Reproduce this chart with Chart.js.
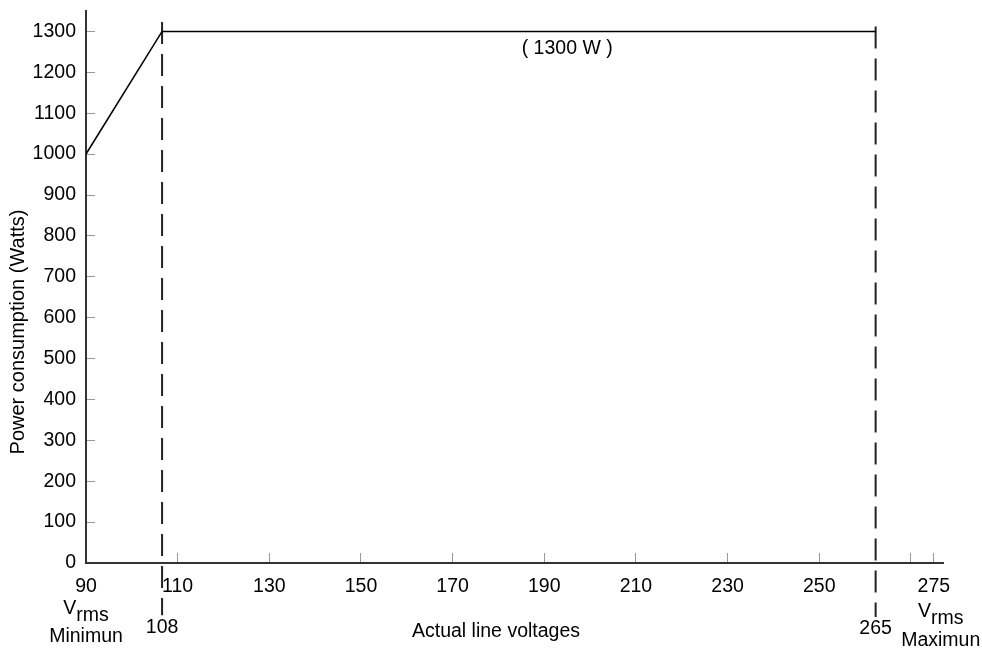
<!DOCTYPE html>
<html>
<head>
<meta charset="utf-8">
<script src="https://cdn.jsdelivr.net/npm/chart.js@4/dist/chart.umd.min.js"></script>
<style>
  html, body { margin: 0; padding: 0; background: #fff; }
  canvas { display: block; }
</style>
</head>
<body>
<canvas id="myChart" width="982" height="649"></canvas>
<script>
// values
const voltage = [90, 106.6, 262.3];
const power = [1000, 1300, 1300];

// the two dashed limit lines (drawn a bit lower than their printed value)
const limitVolts = [106.6, 262.3];
const limitLabels = ['108', '265'];
const limitTop = [1323, 1312];
const limitBottom = [-128, -132];

const xTickValues = [90, 110, 130, 150, 170, 190, 210, 230, 250, 270, 275];
const xTickLabels = ['90', '110', '130', '150', '170', '190', '210', '230', '250', '', '275'];
const yTickValues = [0, 100, 200, 300, 400, 500, 600, 700, 800, 900, 1000, 1100, 1200, 1300];

const ctx = document.getElementById('myChart');
const FONT = "'Liberation Sans', Arial, sans-serif";
const FS = 19.5;
Chart.defaults.font.family = FONT;
Chart.defaults.color = '#000';

const textPlugin = {
  id: 'texts',
  afterDraw(chart) {
    const c = chart.ctx;
    const x = chart.scales.x;
    const y = chart.scales.y;
    c.save();
    c.fillStyle = '#000';
    c.font = FS + 'px ' + FONT;
    c.textAlign = 'center';
    c.textBaseline = 'alphabetic';

    // ( 1300 W )
    c.fillText('( 1300 W )', x.getPixelForValue(195), y.getPixelForValue(1300) + 23);

    // labels under the limit lines
    limitVolts.forEach((v, i) => {
      c.fillText(limitLabels[i], x.getPixelForValue(v), 633 + i);
    });

    c.fillText('Actual line voltages', 496, 637);

    // V rms captions
    function vrms(cx, base, word, wordBase) {
      c.textAlign = 'left';
      const wV = c.measureText('V').width;
      const wR = c.measureText('rms').width;
      const sx = cx - (wV + wR) / 2;
      c.fillText('V', sx, base);
      c.fillText('rms', sx + wV, base + 7);
      c.textAlign = 'center';
      c.fillText(word, cx, wordBase);
    }
    vrms(x.getPixelForValue(90), 614, 'Minimun', 642);
    vrms(x.getPixelForValue(276.5), 617, 'Maximun', 646);

    // y axis title
    c.translate(18, 332);
    c.rotate(-Math.PI / 2);
    c.font = '20px ' + FONT;
    c.textBaseline = 'middle';
    c.fillText('Power consumption (Watts)', 0, 0);
    c.restore();
  }
};

const datasets = [{
  label: 'Power',
  data: voltage.map((v, i) => ({ x: v, y: power[i] })),
  borderColor: '#000',
  borderWidth: 1.6,
  pointRadius: 0,
  tension: 0
}];
limitVolts.forEach((v, i) => {
  datasets.push({
    label: limitLabels[i],
    data: [{ x: v, y: limitTop[i] }, { x: v, y: limitBottom[i] }],
    borderColor: '#222',
    borderWidth: 2,
    borderDash: [22, 10],
    pointRadius: 0,
    clip: false
  });
});

new Chart(ctx, {
  type: 'line',
  data: { datasets },
  options: {
    responsive: false,
    animation: false,
    layout: { padding: { top: 11, right: 39, left: 0, bottom: 0 } },
    plugins: {
      legend: { display: false },
      tooltip: { enabled: false }
    },
    scales: {
      x: {
        type: 'linear',
        min: 90,
        max: 277,
        afterBuildTicks: (scale) => { scale.ticks = xTickValues.map(v => ({ value: v })); },
        afterFit: (scale) => {
          scale.height = 86;
          scale.paddingLeft = 0;
          scale.paddingRight = 0;
        },
        ticks: {
          autoSkip: false,
          maxRotation: 0,
          padding: 22,
          font: { size: FS },
          color: '#000',
          callback: (value, index) => xTickLabels[index]
        },
        grid: {
          drawOnChartArea: false,
          tickLength: -10,
          color: '#999',
          lineWidth: 1
        },
        border: { color: '#333', width: 2 }
      },
      y: {
        min: 0,
        max: 1350,
        afterBuildTicks: (scale) => { scale.ticks = yTickValues.map(v => ({ value: v })); },
        afterFit: (scale) => {
          scale.width = 86;
          scale.paddingTop = 0;
          scale.paddingBottom = 0;
        },
        ticks: {
          padding: 19,
          font: { size: FS },
          color: '#000',
          callback: (value) => String(value)
        },
        grid: {
          drawOnChartArea: false,
          tickLength: -9,
          color: '#999',
          lineWidth: 1
        },
        border: { color: '#333', width: 2 }
      }
    }
  },
  plugins: [textPlugin]
});
</script>
</body>
</html>
